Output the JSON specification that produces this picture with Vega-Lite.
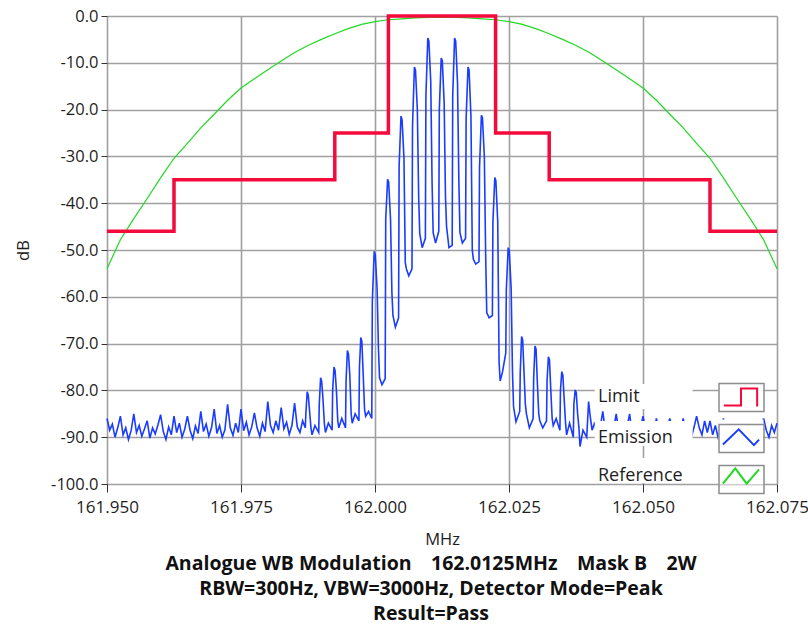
{
  "$schema": "https://vega.github.io/schema/vega-lite/v6.json",
  "width": 670,
  "height": 468,
  "autosize": {"type": "none"},
  "padding": {"left": 107, "top": 16, "right": 31, "bottom": 145},
  "background": "white",
  "config": {
    "font": "Open Sans",
    "view": {"stroke": null},
    "axis": {
      "grid": true,
      "gridColor": "#a0a0a0",
      "gridWidth": 1.6,
      "domain": false,
      "tickColor": "#333333",
      "tickWidth": 1,
      "tickSize": 8,
      "labelFont": "Open Sans",
      "labelFontSize": 16.5,
      "labelColor": "#1e1e1e",
      "titleFont": "Open Sans",
      "titleFontSize": 16.5,
      "titleFontWeight": "normal",
      "titleColor": "#1e1e1e",
      "labelOverlap": false
    },
    "legend": {
      "labelFont": "Open Sans",
      "labelFontSize": 18,
      "labelColor": "#1e1e1e"
    }
  },
  "title": {
    "text": ["Analogue WB Modulation\u2002\u2002162.0125MHz\u2002\u2002Mask B\u2002\u20022W", "RBW=300Hz, VBW=3000Hz, Detector Mode=Peak", "Result=Pass"],
    "orient": "bottom",
    "anchor": "middle",
    "frame": "group",
    "dx": -11,
    "offset": 7,
    "font": "Open Sans",
    "fontSize": 19.5,
    "fontWeight": "bold",
    "lineHeight": 25,
    "color": "#111111"
  },
  "datasets": {
    "reference": [
      {"f": 161.9500, "db": -54.0}, {"f": 161.9525, "db": -47.8}, {"f": 161.9550, "db": -43.3}, {"f": 161.9575, "db": -39.0},
      {"f": 161.9600, "db": -34.6}, {"f": 161.9625, "db": -30.4}, {"f": 161.9650, "db": -27.2}, {"f": 161.9675, "db": -23.9},
      {"f": 161.9700, "db": -21.0}, {"f": 161.9725, "db": -18.0}, {"f": 161.9750, "db": -15.4}, {"f": 161.9775, "db": -13.4},
      {"f": 161.9800, "db": -11.5}, {"f": 161.9825, "db": -9.6}, {"f": 161.9850, "db": -7.8}, {"f": 161.9875, "db": -6.3},
      {"f": 161.9900, "db": -5.0}, {"f": 161.9925, "db": -3.8}, {"f": 161.9950, "db": -2.7}, {"f": 161.9975, "db": -1.8},
      {"f": 162.0000, "db": -1.2}, {"f": 162.0025, "db": -0.8}, {"f": 162.0050, "db": -0.6}, {"f": 162.0075, "db": -0.4},
      {"f": 162.0100, "db": -0.3}, {"f": 162.0125, "db": -0.3}, {"f": 162.0150, "db": -0.3}, {"f": 162.0175, "db": -0.4},
      {"f": 162.0200, "db": -0.6}, {"f": 162.0225, "db": -0.8}, {"f": 162.0250, "db": -1.2}, {"f": 162.0275, "db": -1.8},
      {"f": 162.0300, "db": -2.7}, {"f": 162.0325, "db": -3.8}, {"f": 162.0350, "db": -5.0}, {"f": 162.0375, "db": -6.3},
      {"f": 162.0400, "db": -7.8}, {"f": 162.0425, "db": -9.6}, {"f": 162.0450, "db": -11.5}, {"f": 162.0475, "db": -13.4},
      {"f": 162.0500, "db": -15.4}, {"f": 162.0525, "db": -18.0}, {"f": 162.0550, "db": -21.0}, {"f": 162.0575, "db": -23.9},
      {"f": 162.0600, "db": -27.2}, {"f": 162.0625, "db": -30.4}, {"f": 162.0650, "db": -34.6}, {"f": 162.0675, "db": -39.0},
      {"f": 162.0700, "db": -43.3}, {"f": 162.0725, "db": -47.8}, {"f": 162.0750, "db": -54.0}
    ],
    "limit": [
      {"f": 161.9500, "db": -46}, {"f": 161.9625, "db": -35}, {"f": 161.9925, "db": -25}, {"f": 162.0025, "db": 0},
      {"f": 162.0225, "db": -25}, {"f": 162.0325, "db": -35}, {"f": 162.0625, "db": -46}, {"f": 162.0750, "db": -46}
    ],
    "emission": [
      {"f": 161.9500, "db": -86.0}, {"f": 161.9505, "db": -88.5}, {"f": 161.9510, "db": -87.2}, {"f": 161.9515, "db": -90.0}, {"f": 161.9520, "db": -88.0},
      {"f": 161.9525, "db": -85.5}, {"f": 161.9530, "db": -89.5}, {"f": 161.9535, "db": -88.0}, {"f": 161.9540, "db": -90.5}, {"f": 161.9545, "db": -88.6},
      {"f": 161.9550, "db": -85.0}, {"f": 161.9555, "db": -89.0}, {"f": 161.9560, "db": -87.5}, {"f": 161.9565, "db": -89.8}, {"f": 161.9570, "db": -88.2},
      {"f": 161.9575, "db": -86.5}, {"f": 161.9580, "db": -90.2}, {"f": 161.9585, "db": -88.0}, {"f": 161.9590, "db": -89.3}, {"f": 161.9595, "db": -87.4},
      {"f": 161.9600, "db": -85.2}, {"f": 161.9605, "db": -88.8}, {"f": 161.9610, "db": -90.5}, {"f": 161.9615, "db": -87.8}, {"f": 161.9620, "db": -89.5},
      {"f": 161.9625, "db": -85.5}, {"f": 161.9630, "db": -89.0}, {"f": 161.9635, "db": -87.0}, {"f": 161.9640, "db": -90.0}, {"f": 161.9645, "db": -88.3},
      {"f": 161.9650, "db": -85.5}, {"f": 161.9655, "db": -88.5}, {"f": 161.9660, "db": -90.3}, {"f": 161.9665, "db": -87.6}, {"f": 161.9670, "db": -89.2},
      {"f": 161.9675, "db": -84.5}, {"f": 161.9680, "db": -88.8}, {"f": 161.9685, "db": -87.2}, {"f": 161.9690, "db": -89.8}, {"f": 161.9695, "db": -88.0},
      {"f": 161.9700, "db": -84.0}, {"f": 161.9705, "db": -89.2}, {"f": 161.9710, "db": -87.5}, {"f": 161.9715, "db": -90.0}, {"f": 161.9720, "db": -88.4},
      {"f": 161.9725, "db": -83.0}, {"f": 161.9730, "db": -88.0}, {"f": 161.9735, "db": -89.6}, {"f": 161.9740, "db": -87.0}, {"f": 161.9745, "db": -89.0},
      {"f": 161.9750, "db": -84.0}, {"f": 161.9755, "db": -88.6}, {"f": 161.9760, "db": -86.8}, {"f": 161.9765, "db": -89.5}, {"f": 161.9770, "db": -87.8},
      {"f": 161.9775, "db": -84.8}, {"f": 161.9780, "db": -88.0}, {"f": 161.9785, "db": -89.8}, {"f": 161.9790, "db": -87.0}, {"f": 161.9795, "db": -88.8},
      {"f": 161.9800, "db": -82.4}, {"f": 161.9805, "db": -87.5}, {"f": 161.9810, "db": -89.0}, {"f": 161.9815, "db": -86.5}, {"f": 161.9820, "db": -88.5},
      {"f": 161.9825, "db": -83.7}, {"f": 161.9830, "db": -88.2}, {"f": 161.9835, "db": -86.8}, {"f": 161.9840, "db": -89.4}, {"f": 161.9845, "db": -87.5},
      {"f": 161.9850, "db": -82.7}, {"f": 161.9855, "db": -87.8}, {"f": 161.9860, "db": -89.0}, {"f": 161.9865, "db": -86.5},
      {"f": 161.9870, "db": -88.0}, {"f": 161.9871, "db": -85.0}, {"f": 161.98735, "db": -80.3}, {"f": 161.98755, "db": -81.0}, {"f": 161.9878, "db": -84.5}, {"f": 161.98805, "db": -88.0}, {"f": 161.98825, "db": -89.5}, {"f": 161.9888, "db": -87.5},
      {"f": 161.9895, "db": -89.0}, {"f": 161.9896, "db": -83.0}, {"f": 161.98985, "db": -77.3}, {"f": 161.99005, "db": -78.0}, {"f": 161.9903, "db": -82.0}, {"f": 161.99055, "db": -87.0}, {"f": 161.99075, "db": -89.0}, {"f": 161.9913, "db": -87.0},
      {"f": 161.9920, "db": -88.5}, {"f": 161.9921, "db": -80.0}, {"f": 161.99235, "db": -75.0}, {"f": 161.99255, "db": -75.8}, {"f": 161.9928, "db": -80.0}, {"f": 161.99305, "db": -86.5}, {"f": 161.99325, "db": -88.0}, {"f": 161.9938, "db": -86.0},
      {"f": 161.9945, "db": -88.0}, {"f": 161.9946, "db": -78.0}, {"f": 161.99485, "db": -71.5}, {"f": 161.99505, "db": -72.2}, {"f": 161.9953, "db": -76.7}, {"f": 161.99555, "db": -85.0}, {"f": 161.99575, "db": -87.0}, {"f": 161.9963, "db": -85.0},
      {"f": 161.9970, "db": -86.5}, {"f": 161.9971, "db": -75.0}, {"f": 161.99735, "db": -68.7}, {"f": 161.99755, "db": -69.5}, {"f": 161.9978, "db": -76.7}, {"f": 161.99805, "db": -84.0}, {"f": 161.99825, "db": -85.5}, {"f": 161.9988, "db": -84.5},
      {"f": 161.9994, "db": -86.0}, {"f": 161.9995, "db": -61.0}, {"f": 161.99985, "db": -50.3}, {"f": 162.00005, "db": -51.0}, {"f": 162.0004, "db": -58.5}, {"f": 162.00065, "db": -71.3}, {"f": 162.00085, "db": -77.3}, {"f": 162.0013, "db": -78.8},
      {"f": 162.0019, "db": -77.5}, {"f": 162.0020, "db": -43.5}, {"f": 162.00235, "db": -34.9}, {"f": 162.00255, "db": -35.5}, {"f": 162.0029, "db": -43.5}, {"f": 162.00315, "db": -59.0}, {"f": 162.00335, "db": -64.0}, {"f": 162.0038, "db": -66.5},
      {"f": 162.0044, "db": -64.5}, {"f": 162.0045, "db": -32.0}, {"f": 162.00485, "db": -21.4}, {"f": 162.00505, "db": -22.2}, {"f": 162.0054, "db": -30.2}, {"f": 162.00565, "db": -52.7}, {"f": 162.00585, "db": -54.0}, {"f": 162.0063, "db": -55.5},
      {"f": 162.0069, "db": -54.0}, {"f": 162.0070, "db": -23.5}, {"f": 162.00735, "db": -10.9}, {"f": 162.00755, "db": -11.5}, {"f": 162.0079, "db": -20.0}, {"f": 162.00815, "db": -38.8}, {"f": 162.00835, "db": -46.5}, {"f": 162.0088, "db": -49.5},
      {"f": 162.0094, "db": -47.5}, {"f": 162.0095, "db": -17.0}, {"f": 162.00985, "db": -4.7}, {"f": 162.01005, "db": -5.3}, {"f": 162.0104, "db": -14.0}, {"f": 162.01065, "db": -35.6}, {"f": 162.01085, "db": -46.3}, {"f": 162.0113, "db": -48.5},
      {"f": 162.0119, "db": -46.0}, {"f": 162.0120, "db": -20.0}, {"f": 162.01235, "db": -9.0}, {"f": 162.01255, "db": -9.5}, {"f": 162.0129, "db": -18.4}, {"f": 162.01315, "db": -38.6}, {"f": 162.01335, "db": -45.0}, {"f": 162.0138, "db": -49.5},
      {"f": 162.0144, "db": -49.0}, {"f": 162.0145, "db": -17.0}, {"f": 162.01485, "db": -4.7}, {"f": 162.01505, "db": -5.3}, {"f": 162.0154, "db": -14.4}, {"f": 162.01565, "db": -35.6}, {"f": 162.01585, "db": -46.3}, {"f": 162.0163, "db": -48.5},
      {"f": 162.0169, "db": -47.5}, {"f": 162.0170, "db": -22.0}, {"f": 162.01735, "db": -10.9}, {"f": 162.01755, "db": -11.5}, {"f": 162.0179, "db": -21.4}, {"f": 162.01815, "db": -50.0}, {"f": 162.01835, "db": -52.0}, {"f": 162.0188, "db": -53.0},
      {"f": 162.0194, "db": -52.5}, {"f": 162.0195, "db": -32.4}, {"f": 162.01985, "db": -21.2}, {"f": 162.02005, "db": -21.8}, {"f": 162.0204, "db": -30.0}, {"f": 162.02065, "db": -51.4}, {"f": 162.02085, "db": -63.4}, {"f": 162.0213, "db": -64.5},
      {"f": 162.0219, "db": -64.0}, {"f": 162.0220, "db": -44.0}, {"f": 162.02235, "db": -34.5}, {"f": 162.02255, "db": -35.2}, {"f": 162.0229, "db": -44.0}, {"f": 162.02315, "db": -74.0}, {"f": 162.02335, "db": -78.0}, {"f": 162.0238, "db": -76.0},
      {"f": 162.0244, "db": -72.0}, {"f": 162.0245, "db": -58.5}, {"f": 162.02485, "db": -49.5}, {"f": 162.02505, "db": -50.2}, {"f": 162.0254, "db": -58.2}, {"f": 162.02565, "db": -76.0}, {"f": 162.02585, "db": -83.5}, {"f": 162.0263, "db": -86.7},
      {"f": 162.0270, "db": -84.5}, {"f": 162.0271, "db": -76.0}, {"f": 162.02735, "db": -68.5}, {"f": 162.02755, "db": -69.2}, {"f": 162.0278, "db": -76.0}, {"f": 162.02805, "db": -83.0}, {"f": 162.02825, "db": -85.0}, {"f": 162.0288, "db": -88.0},
      {"f": 162.0295, "db": -86.0}, {"f": 162.0296, "db": -77.5}, {"f": 162.02985, "db": -70.5}, {"f": 162.03005, "db": -71.2}, {"f": 162.0303, "db": -78.6}, {"f": 162.03055, "db": -85.0}, {"f": 162.03075, "db": -86.5}, {"f": 162.0313, "db": -88.0},
      {"f": 162.0320, "db": -86.5}, {"f": 162.0321, "db": -78.0}, {"f": 162.03235, "db": -72.8}, {"f": 162.03255, "db": -73.5}, {"f": 162.0328, "db": -80.0}, {"f": 162.03305, "db": -86.0}, {"f": 162.03325, "db": -87.5}, {"f": 162.0338, "db": -86.0},
      {"f": 162.0345, "db": -88.5}, {"f": 162.0346, "db": -80.0}, {"f": 162.03485, "db": -76.0}, {"f": 162.03505, "db": -76.8}, {"f": 162.0353, "db": -82.0}, {"f": 162.03555, "db": -87.0}, {"f": 162.03575, "db": -89.5}, {"f": 162.0363, "db": -87.0},
      {"f": 162.0370, "db": -90.0}, {"f": 162.0371, "db": -83.0}, {"f": 162.03735, "db": -79.9}, {"f": 162.03755, "db": -80.5}, {"f": 162.0378, "db": -85.0}, {"f": 162.03805, "db": -88.0}, {"f": 162.03825, "db": -92.0}, {"f": 162.0388, "db": -88.5},
      {"f": 162.0395, "db": -90.0}, {"f": 162.03985, "db": -82.4}, {"f": 162.0402, "db": -86.0},
      {"f": 162.0405, "db": -88.5}, {"f": 162.0410, "db": -86.8}, {"f": 162.0415, "db": -90.5}, {"f": 162.0420, "db": -88.0},
      {"f": 162.0425, "db": -84.5}, {"f": 162.0430, "db": -89.0}, {"f": 162.0435, "db": -87.2}, {"f": 162.0440, "db": -91.0}, {"f": 162.0445, "db": -88.5},
      {"f": 162.0450, "db": -85.0}, {"f": 162.0455, "db": -88.8}, {"f": 162.0460, "db": -87.0}, {"f": 162.0465, "db": -90.2}, {"f": 162.0470, "db": -88.0},
      {"f": 162.0475, "db": -85.0}, {"f": 162.0480, "db": -89.5}, {"f": 162.0485, "db": -87.5}, {"f": 162.0490, "db": -90.0}, {"f": 162.0495, "db": -88.2},
      {"f": 162.0500, "db": -85.5}, {"f": 162.0505, "db": -88.5}, {"f": 162.0510, "db": -90.5}, {"f": 162.0515, "db": -87.4}, {"f": 162.0520, "db": -89.5},
      {"f": 162.0525, "db": -86.0}, {"f": 162.0530, "db": -89.0}, {"f": 162.0535, "db": -87.0}, {"f": 162.0540, "db": -90.3}, {"f": 162.0545, "db": -88.0},
      {"f": 162.0550, "db": -86.0}, {"f": 162.0555, "db": -88.5}, {"f": 162.0560, "db": -90.0}, {"f": 162.0565, "db": -87.5}, {"f": 162.0570, "db": -89.2},
      {"f": 162.0575, "db": -86.0}, {"f": 162.0580, "db": -89.5}, {"f": 162.0585, "db": -87.0}, {"f": 162.0590, "db": -90.0}, {"f": 162.0595, "db": -88.0},
      {"f": 162.0600, "db": -85.5}, {"f": 162.0605, "db": -88.0}, {"f": 162.0610, "db": -89.5}, {"f": 162.0615, "db": -86.5}, {"f": 162.0620, "db": -89.0},
      {"f": 162.0625, "db": -86.5}, {"f": 162.0630, "db": -89.5}, {"f": 162.0635, "db": -87.5}, {"f": 162.0640, "db": -90.0}, {"f": 162.0645, "db": -88.5},
      {"f": 162.0650, "db": -86.0}, {"f": 162.0655, "db": -88.5}, {"f": 162.0660, "db": -90.5}, {"f": 162.0665, "db": -87.0}, {"f": 162.0670, "db": -89.0},
      {"f": 162.0675, "db": -86.5}, {"f": 162.0680, "db": -89.0}, {"f": 162.0685, "db": -87.5}, {"f": 162.0690, "db": -90.2}, {"f": 162.0695, "db": -88.0},
      {"f": 162.0700, "db": -87.0}, {"f": 162.0705, "db": -89.5}, {"f": 162.0710, "db": -87.0}, {"f": 162.0715, "db": -89.8}, {"f": 162.0720, "db": -88.5},
      {"f": 162.0725, "db": -86.0}, {"f": 162.0730, "db": -88.5}, {"f": 162.0735, "db": -90.0}, {"f": 162.0740, "db": -87.5}, {"f": 162.0745, "db": -89.0},
      {"f": 162.0750, "db": -87.0}
    ]
  },
  "encoding": {
    "x": {
      "field": "f",
      "type": "quantitative",
      "scale": {"domain": [161.95, 162.075], "nice": false, "zero": false},
      "axis": {
        "title": "MHz",
        "values": [161.95, 161.975, 162.0, 162.025, 162.05, 162.075],
        "format": ".3f",
        "labelFlush": false,
        "labelFontSize": 17,
        "labelPadding": 7,
        "titlePadding": 16
      }
    },
    "y": {
      "field": "db",
      "type": "quantitative",
      "scale": {"domain": [-100, 0], "nice": false, "zero": false},
      "axis": {
        "title": "dB",
        "values": [-100, -90, -80, -70, -60, -50, -40, -30, -20, -10, 0],
        "labelExpr": "replace(format(datum.value, '.1f'), '\u2212', '-')",
        "tickSize": 6,
        "labelPadding": 3,
        "titlePadding": 19
      }
    }
  },
  "layer": [
    {
      "data": {"name": "limit"},
      "transform": [{"filter": "false"}],
      "mark": {"type": "point", "filled": true, "color": "white", "opacity": 1, "strokeWidth": 0},
      "encoding": {
        "size": {
          "datum": "Limit bg",
          "type": "ordinal",
          "scale": {"domain": ["Limit bg", "Emission bg", "Reference bg"], "range": [2025, 2025]},
          "legend": {
            "orient": "none",
            "legendX": 611.5,
            "legendY": 358,
            "title": null,
            "direction": "vertical",
            "symbolType": "M-6.5,-0.56L-2.15,-0.56L-2.15,0.56L-6.5,0.56Z M-1,-0.62L1,-0.62L1,0.62L-1,0.62Z",
            "symbolFillColor": "white",
            "symbolStrokeColor": "transparent",
            "symbolStrokeWidth": 0,
            "symbolOpacity": 1,
            "labelExpr": "''",
            "rowPadding": -2.5,
            "padding": 0
          }
        }
      }
    },
    {
      "data": {"name": "limit"},
      "transform": [{"filter": "false"}],
      "mark": {"type": "point", "filled": false, "opacity": 1, "strokeWidth": 2},
      "encoding": {
        "stroke": {"datum": "Limit", "type": "nominal"},
        "shape": {
          "datum": "Limit",
          "type": "nominal",
          "scale": {
            "domain": ["Limit", "Emission", "Reference"],
            "range": ["M-0.9,0.45L0,0.45L0,-0.45L0.85,-0.45L0.85,0.5", "M-0.95,0.37L-0.12,-0.43L0.68,0.4L0.95,0.11", "M-0.95,0.4L-0.3,-0.4L0.3,0.4L0.95,-0.35"]
          },
          "legend": {
            "orient": "none",
            "legendX": 614,
            "legendY": 361,
            "title": null,
            "direction": "vertical",
            "symbolSize": 1444,
            "symbolStrokeWidth": 2,
            "symbolFillColor": "transparent",
            "symbolOpacity": 1,
            "labelAlign": "left",
            "labelOffset": -163,
            "rowPadding": 6.5,
            "padding": 0
          }
        }
      }
    },
    {
      "data": {"name": "limit"},
      "transform": [{"filter": "false"}],
      "mark": {"type": "point", "filled": true, "opacity": 1, "stroke": "#8c8c8c", "strokeWidth": 1.5},
      "encoding": {
        "fill": {
          "datum": "Limit frame",
          "type": "nominal",
          "scale": {"domain": ["Limit frame", "Emission frame", "Reference frame"], "range": ["transparent", "transparent", "transparent"]},
          "legend": {
            "orient": "none",
            "legendX": 611,
            "legendY": 358,
            "title": null,
            "direction": "vertical",
            "symbolType": "M-1,-0.62L1,-0.62L1,0.62L-1,0.62Z",
            "symbolSize": 2025,
            "symbolStrokeColor": "#8c8c8c",
            "symbolStrokeWidth": 1.5,
            "symbolOpacity": 1,
            "labelExpr": "''",
            "rowPadding": -2.5,
            "padding": 0
          }
        }
      }
    },
    {
      "data": {"name": "reference"},
      "mark": {"type": "line", "strokeWidth": 1.2},
      "encoding": {
        "stroke": {"datum": "Reference", "type": "nominal", "scale": {"domain": ["Limit", "Emission", "Reference"], "range": ["#f50a3c", "#1a3cff", "#22d822"]}}
      }
    },
    {
      "data": {"name": "emission"},
      "mark": {"type": "line", "strokeWidth": 1.6},
      "encoding": {
        "stroke": {"datum": "Emission", "type": "nominal"}
      }
    },
    {
      "data": {"name": "limit"},
      "mark": {"type": "line", "interpolate": "step-after", "strokeWidth": 3.5},
      "encoding": {
        "stroke": {"datum": "Limit", "type": "nominal"}
      }
    }
  ]
}
